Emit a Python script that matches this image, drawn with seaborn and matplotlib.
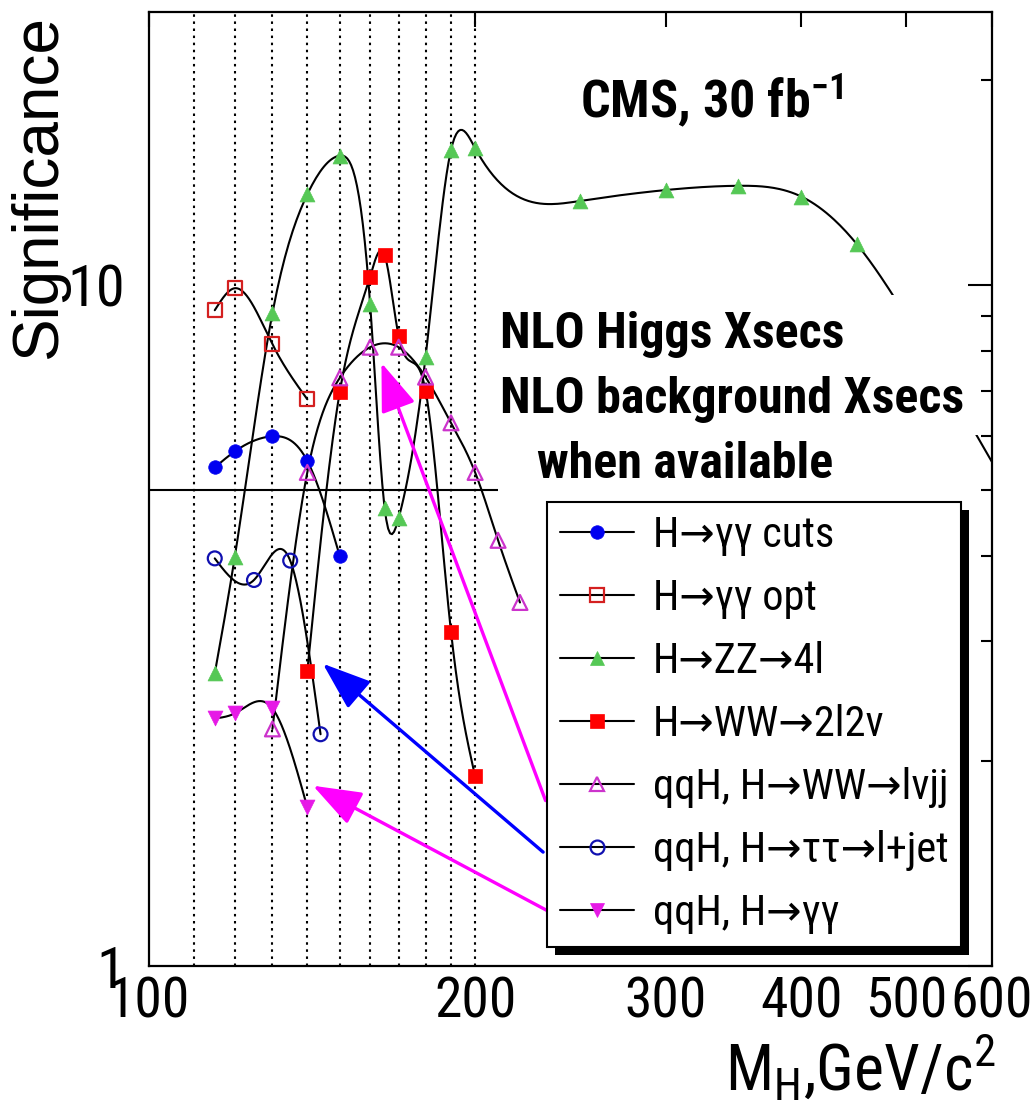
import numpy as np
import pandas as pd
import matplotlib
matplotlib.use("Agg")
import matplotlib.pyplot as plt
import seaborn as sns
from matplotlib.lines import Line2D
from matplotlib.patches import Rectangle
from matplotlib import font_manager as fm
from matplotlib.ticker import FixedLocator, FixedFormatter, NullLocator, NullFormatter

# ---------------- data ----------------
mass_gg_cuts = [115, 120, 130, 140, 150]
sig_gg_cuts = [5.40, 5.70, 6.00, 5.52, 4.00]

mass_gg_opt = [115, 120, 130, 140]
sig_gg_opt = [9.19, 9.90, 8.19, 6.80]

mass_zz = [115, 120, 130, 140, 150, 160, 165, 170, 180, 190, 200, 250, 300, 350, 400, 450, 500, 600]
sig_zz = [2.69, 3.99, 9.10, 13.6, 15.5, 9.38, 4.71, 4.55, 7.84, 15.8, 15.9, 13.3, 13.8, 14.0, 13.5, 11.5, 9.0, 5.5]

mass_ww = [140, 150, 160, 165, 170, 180, 190, 200]
sig_ww = [2.71, 6.97, 10.3, 11.07, 8.42, 7.00, 3.10, 1.90]

mass_qqww = [130, 140, 150, 160, 170, 180, 190, 200, 210, 220]
sig_qqww = [2.23, 5.31, 7.31, 8.11, 8.11, 7.33, 6.28, 5.31, 4.22, 3.42]

mass_qqtt = [115, 125, 135, 144]
sig_qqtt = [3.97, 3.69, 3.94, 2.19]

mass_qqgg = [115, 120, 130, 140]
sig_qqgg = [2.31, 2.35, 2.39, 1.71]

series_labels = ["H→γγ cuts", "H→γγ opt", "H→ZZ→4l", "H→WW→2l2ν",
                 "qqH, H→WW→lνjj", "qqH, H→ττ→l+jet", "qqH, H→γγ"]

x_ticks = [100, 200, 300, 400, 500, 600]
x_tick_labels = ["100", "200", "300", "400", "500", "600"]
y_ticks = [1, 10]
y_tick_labels = ["1", "10"]
y_minor_ticks = [2, 3, 4, 5, 6, 7, 8, 9, 20]
dotted_masses = [110, 120, 130, 140, 150, 160, 170, 180, 190, 200]
discovery_level = 5
discovery_line_range = [100, 210]

# arrows: (start mass, start sig) -> (end mass, end sig)
arrow_start_mass = [232.3, 231.1, 234.5]
arrow_start_sig = [1.75, 1.47, 1.20]
arrow_end_mass = [163.9, 144.7, 141.7]
arrow_end_sig = [7.69, 2.78, 1.84]
arrow_colors = ["#ff00ff", "#0000ff", "#ff00ff"]

# ---------------- style ----------------
sns.set_theme(style="white")

# find a narrow / condensed sans font if one is installed
fonts = fm.fontManager.ttflist
names = {f.name for f in fonts}


def _is_condensed(f):
    s = f.stretch
    if isinstance(s, str):
        return s in ("condensed", "semi-condensed", "extra-condensed", "ultra-condensed")
    try:
        return int(s) < 500
    except Exception:
        return False


NARROW, STRETCH, SCALE = "Liberation Sans", "normal", 0.84
for cand in ["Liberation Sans Narrow", "Roboto Condensed", "Open Sans Condensed",
             "Noto Sans Condensed", "DejaVu Sans Condensed", "Arial Narrow"]:
    if cand in names:
        NARROW, STRETCH, SCALE = cand, "normal", 1.0
        break
else:
    for fam in ["Liberation Sans", "Noto Sans", "Roboto", "Open Sans", "DejaVu Sans", "Lato", "Inter"]:
        if any(f.name == fam and _is_condensed(f) for f in fonts):
            NARROW, STRETCH, SCALE = fam, "condensed", 1.0
            break

REG = "Liberation Sans"
plt.rcParams["font.family"] = [NARROW, "DejaVu Sans"]
plt.rcParams["font.stretch"] = STRETCH
plt.rcParams["text.color"] = "black"
plt.rcParams["axes.labelcolor"] = "black"
plt.rcParams["xtick.color"] = "black"
plt.rcParams["ytick.color"] = "black"
plt.rcParams["mathtext.fontset"] = "custom"
plt.rcParams["mathtext.rm"] = NARROW
plt.rcParams["mathtext.it"] = NARROW
plt.rcParams["mathtext.bf"] = NARROW + ":bold"


def fs(v):
    return v * SCALE


def smooth(xs, ys, n=400):
    """natural cubic spline in log-log space"""
    lx = np.log10(np.asarray(xs, float))
    ly = np.log10(np.asarray(ys, float))
    m = len(lx)
    h = np.diff(lx)
    A = np.zeros((m, m))
    b = np.zeros(m)
    A[0, 0] = A[-1, -1] = 1.0
    for i in range(1, m - 1):
        A[i, i - 1] = h[i - 1]
        A[i, i] = 2 * (h[i - 1] + h[i])
        A[i, i + 1] = h[i]
        b[i] = 6 * ((ly[i + 1] - ly[i]) / h[i] - (ly[i] - ly[i - 1]) / h[i - 1])
    M = np.linalg.solve(A, b)
    xx = np.linspace(lx[0], lx[-1], n)
    idx = np.clip(np.searchsorted(lx, xx) - 1, 0, m - 2)
    x0 = lx[idx]
    x1 = lx[idx + 1]
    hh = x1 - x0
    t0 = x1 - xx
    t1 = xx - x0
    yy = (M[idx] * t0 ** 3 / (6 * hh) + M[idx + 1] * t1 ** 3 / (6 * hh)
          + (ly[idx] / hh - M[idx] * hh / 6) * t0 + (ly[idx + 1] / hh - M[idx + 1] * hh / 6) * t1)
    return 10 ** xx, 10 ** yy


fig = plt.figure(figsize=(10.36, 11.03), dpi=100)
ax = fig.add_axes([149 / 1036, 1 - 966 / 1103, 843 / 1036, 954 / 1103])
ax.set_xscale("log")
ax.set_yscale("log")
ax.set_xlim(100, 600)
ax.set_ylim(1, 25.2)
ax.set_axisbelow(False)

# dotted vertical lines
for m in dotted_masses:
    ax.axvline(m, color="black", lw=1.5, ls=(0, (1.2, 2.2)), zorder=1)
ax.hlines(discovery_level, discovery_line_range[0], discovery_line_range[1],
          color="black", lw=1.5, zorder=1.5)

series = [
    (mass_gg_cuts, sig_gg_cuts, "o", "#0000f0", True, 95),
    (mass_gg_opt, sig_gg_opt, "s", "#d42020", False, 100),
    (mass_zz, sig_zz, "^", "#55c855", True, 115),
    (mass_ww, sig_ww, "s", "#ff0000", True, 110),
    (mass_qqww, sig_qqww, "^", "#cc33cc", False, 115),
    (mass_qqtt, sig_qqtt, "o", "#1010b0", False, 100),
    (mass_qqgg, sig_qqgg, "v", "#e619e6", True, 115),
]

handles = []
for (mx, sy, mk, col, filled, size), lab in zip(series, series_labels):
    cx, cy = smooth(mx, sy)
    sns.lineplot(x=cx, y=cy, color="black", linewidth=1.5, sort=False,
                 estimator=None, ax=ax, zorder=2)
    df = pd.DataFrame({"mass": mx, "sig": sy})
    df = df[df["mass"] < 600]
    if filled:
        sns.scatterplot(data=df, x="mass", y="sig", marker=mk, s=size, color=col,
                        edgecolor=col, linewidth=0.5, ax=ax, zorder=2.1, legend=False)
    else:
        sns.scatterplot(data=df, x="mass", y="sig", marker=mk, s=size, color=col,
                        facecolor="none", edgecolor=col, linewidth=1.6, ax=ax,
                        zorder=2.1, legend=False)
    handles.append(Line2D([], [], color="black", lw=1.5, marker=mk, markersize=np.sqrt(size),
                          markerfacecolor=col if filled else "none", markeredgecolor=col,
                          markeredgewidth=0.5 if filled else 1.6))

# arrows
for sx, sy_, ex, ey, col in zip(arrow_start_mass, arrow_start_sig, arrow_end_mass, arrow_end_sig, arrow_colors):
    ax.annotate("", xy=(ex, ey), xytext=(sx, sy_),
                arrowprops=dict(arrowstyle="-|>,head_length=1.5,head_width=0.55", color=col,
                                lw=2.4, mutation_scale=20, shrinkA=0, shrinkB=0),
                zorder=2.2)

# white box behind the annotation text
ax.add_patch(Rectangle((0.413, 0.557), 0.587, 0.146, transform=ax.transAxes,
                       facecolor="white", edgecolor="none", zorder=2.3))

# ticks
ax.xaxis.set_major_locator(FixedLocator(x_ticks))
ax.xaxis.set_major_formatter(FixedFormatter(x_tick_labels))
ax.xaxis.set_minor_locator(NullLocator())
ax.yaxis.set_major_locator(FixedLocator(y_ticks))
ax.yaxis.set_major_formatter(FixedFormatter(y_tick_labels))
ax.yaxis.set_minor_locator(FixedLocator(y_minor_ticks))
ax.yaxis.set_minor_formatter(NullFormatter())
ax.tick_params(which="both", direction="in", top=True, right=True, color="black")
ax.tick_params(axis="y", which="major", length=17, width=1.5, labelsize=fs(42), pad=17)
ax.tick_params(axis="y", which="minor", length=8, width=1.5)
ax.tick_params(axis="x", which="major", length=11, width=1.5, labelsize=fs(40), pad=7)
for sp in ax.spines.values():
    sp.set_linewidth(1.6)
    sp.set_color("black")

# axis labels
ax.set_ylabel("Significance", fontsize=46, family=[REG, "DejaVu Sans"], fontstretch="normal")
yl = ax.yaxis.label
yl.set_rotation_mode("default")
yl.set_ha("center")
yl.set_va("top")
ax.yaxis.set_label_coords(-0.130, 0.997)

ax.set_xlabel(r"M$_{\mathregular{H}}$,GeV/c$^{\mathregular{2}}$", fontsize=fs(46))
xl = ax.xaxis.label
xl.set_ha("right")
xl.set_va("top")
ax.xaxis.set_label_coords(1.004, -0.070)

# texts
ax.text(0.511, 0.889, r"CMS, 30 fb$^{\mathbf{-1}}$", transform=ax.transAxes,
        fontsize=fs(37.5), fontweight="bold", ha="left", va="baseline", zorder=3)
ax.text(0.416, 0.648, "NLO Higgs Xsecs", transform=ax.transAxes,
        fontsize=fs(36), fontweight="bold", ha="left", va="baseline", zorder=3)
ax.text(0.416, 0.580, "NLO background Xsecs", transform=ax.transAxes,
        fontsize=fs(36), fontweight="bold", ha="left", va="baseline", zorder=3)
ax.text(0.460, 0.512, "when available", transform=ax.transAxes,
        fontsize=fs(36), fontweight="bold", ha="left", va="baseline", zorder=3)

# legend
leg = ax.legend(handles, series_labels, loc="upper left",
                bbox_to_anchor=((547 - 149) / 843, (966 - 502) / 954),
                borderaxespad=0, frameon=True, fancybox=False, framealpha=1,
                edgecolor="black", fontsize=fs(30.5), labelspacing=0.52 / SCALE,
                handlelength=1.75 / SCALE, handletextpad=0.45 / SCALE, borderpad=0.3 / SCALE)
leg.get_frame().set_linewidth(1.5)
leg.set_zorder(5)

fig.canvas.draw()
bb = leg.get_window_extent()
inv = ax.transAxes.inverted()
(x0, y0), (x1, y1) = inv.transform([[bb.x0, bb.y0], [bb.x1, bb.y1]])
ax.add_patch(Rectangle((x0 + 8 / 843, y0 - 8 / 954), x1 - x0, y1 - y0, transform=ax.transAxes,
                       facecolor="black", edgecolor="none", zorder=4.9, clip_on=False))

fig.savefig("out.png", dpi=100)
